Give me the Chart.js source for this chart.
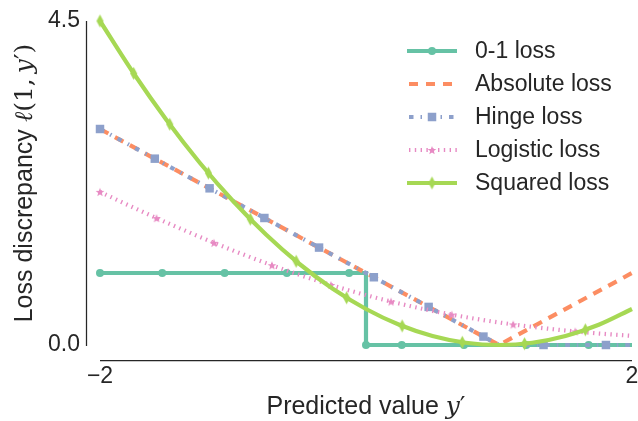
<!DOCTYPE html>
<html>
<head>
<meta charset="utf-8">
<script src="https://cdn.jsdelivr.net/npm/chart.js@4.4.1/dist/chart.umd.min.js"></script>
<style>
  html, body { margin: 0; padding: 0; background: #fff; }
  #wrap { width: 638px; height: 421px; }
</style>
</head>
<body>
<div id="wrap"><canvas id="lossChart" width="638" height="421"></canvas></div>
<script>
// axis ticks
const xTicks = [-2, 2];
const yTicks = [0, 4.5];

// 0-1 loss
const zeroOneX = [-2, 0, 0, 2];
const zeroOneY = [1, 1, 0, 0];
const zeroOneMarkX = [-2, -1.532, -1.063, -0.595, -0.127, 0, 0.269, 0.737, 1.205, 1.674];
const zeroOneMarkY = [1, 1, 1, 1, 1, 0, 0, 0, 0, 0];

// absolute loss
const absX = [-2, 1, 2];
const absY = [3, 0, 1];

// hinge loss
const hingeX = [-2, 1, 2];
const hingeY = [3, 0, 0];
const hingeMarkX = [-2, -1.588, -1.176, -0.764, -0.353, 0.059, 0.471, 0.883, 1.335, 1.804];
const hingeMarkY = [3, 2.588, 2.176, 1.764, 1.353, 0.941, 0.529, 0.117, 0, 0];

// logistic loss
const logX = [-2, -1.75, -1.5, -1.25, -1, -0.75, -0.5, -0.25, 0, 0.25, 0.5, 0.75, 1, 1.25, 1.5, 1.75, 2];
const logY = [2.127, 1.910, 1.701, 1.502, 1.313, 1.137, 0.974, 0.826, 0.693, 0.576, 0.474, 0.387, 0.313, 0.252, 0.201, 0.160, 0.127];
const logMarkX = [-2, -1.575, -1.143, -0.707, -0.264, 0.188, 0.645, 1.107, 1.573];
const logMarkY = [2.127, 1.763, 1.420, 1.108, 0.834, 0.604, 0.422, 0.286, 0.189];

// squared loss
const sqX = [-2, -1.75, -1.5, -1.25, -1, -0.75, -0.5, -0.25, 0, 0.25, 0.5, 0.75, 1, 1.25, 1.5, 1.75, 2];
const sqY = [4.5, 3.781, 3.125, 2.531, 2, 1.531, 1.125, 0.781, 0.5, 0.281, 0.125, 0.031, 0, 0.031, 0.125, 0.281, 0.5];
const sqMarkX = [-2, -1.747, -1.476, -1.185, -0.870, -0.525, -0.146, 0.272, 0.724, 1.192, 1.649];
const sqMarkY = [4.5, 3.772, 3.066, 2.388, 1.748, 1.163, 0.656, 0.265, 0.038, 0.018, 0.211];

const textColor = '#262626';
const sansFont = '"Liberation Sans", Arial, sans-serif';
const mathFont = '"DejaVu Serif", serif';
const lw = 4.2;

const pts = (xs, ys) => xs.map((x, i) => ({ x: x, y: ys[i] }));

function starMarker(color, r) {
  const s = Math.ceil(r * 2 + 2);
  const c = document.createElement('canvas');
  c.width = s; c.height = s;
  const g = c.getContext('2d');
  g.fillStyle = color;
  g.beginPath();
  for (let i = 0; i < 10; i++) {
    const rad = i % 2 === 0 ? r : r * 0.42;
    const a = -Math.PI / 2 + i * Math.PI / 5;
    const px = s / 2 + rad * Math.cos(a), py = s / 2 + rad * Math.sin(a) + 0.5;
    if (i === 0) g.moveTo(px, py); else g.lineTo(px, py);
  }
  g.closePath();
  g.fill();
  return c;
}

function thinDiamond(color, w, h) {
  const c = document.createElement('canvas');
  c.width = w + 2; c.height = h + 2;
  const g = c.getContext('2d');
  g.fillStyle = color;
  g.beginPath();
  g.moveTo(c.width / 2, 1);
  g.lineTo(c.width - 1, c.height / 2);
  g.lineTo(c.width / 2, c.height - 1);
  g.lineTo(1, c.height / 2);
  g.closePath();
  g.fill();
  return c;
}

const starImg = starMarker('#e78ac3', 4.6);
const diamondImg = thinDiamond('#a6d854', 7, 13);

const legendItems = [
  { text: '0-1 loss', color: '#66c2a5', dash: [], marker: 'circle' },
  { text: 'Absolute loss', color: '#fc8d62', dash: [9, 8], marker: null },
  { text: 'Hinge loss', color: '#8da0cb', dash: [4.5, 7, 1.5, 7], marker: 'rect' },
  { text: 'Logistic loss', color: '#e78ac3', dash: [1.4, 4.4], marker: starImg },
  { text: 'Squared loss', color: '#a6d854', dash: [], marker: diamondImg }
];

function drawParts(ctx, parts, x, y) {
  let total = 0;
  parts.forEach(p => { ctx.font = p.font; p.w = ctx.measureText(p.text).width; total += p.w; });
  let cx = x - total / 2;
  ctx.textAlign = 'left';
  parts.forEach(p => { ctx.font = p.font; ctx.fillText(p.text, cx, y); cx += p.w; });
}

function drawMarker(ctx, m, color, x, y) {
  if (!m) return;
  ctx.fillStyle = color;
  if (m === 'circle') {
    ctx.beginPath(); ctx.arc(x, y, 4, 0, Math.PI * 2); ctx.fill();
  } else if (m === 'rect') {
    ctx.fillRect(x - 4.25, y - 4.25, 8.5, 8.5);
  } else {
    ctx.drawImage(m, x - m.width / 2, y - m.height / 2);
  }
}

const decor = {
  id: 'decor',
  afterDraw(chart) {
    const ctx = chart.ctx;
    const a = chart.chartArea;
    ctx.save();
    // offset spines
    ctx.strokeStyle = textColor;
    ctx.lineWidth = 1.25;
    ctx.beginPath();
    ctx.moveTo(a.left - 13.5, a.top);
    ctx.lineTo(a.left - 13.5, a.bottom + 1);
    ctx.moveTo(a.left, a.bottom + 15.5);
    ctx.lineTo(a.right, a.bottom + 15.5);
    ctx.stroke();

    // axis titles
    ctx.fillStyle = textColor;
    ctx.textBaseline = 'alphabetic';
    drawParts(ctx, [
      { text: 'Predicted value ', font: '25px ' + sansFont },
      { text: 'y', font: 'italic 25px ' + mathFont },
      { text: '\u2032', font: '25px ' + mathFont }
    ], (a.left + a.right) / 2, 414);

    ctx.save();
    ctx.translate(32, (a.top + a.bottom) / 2);
    ctx.rotate(-Math.PI / 2);
    drawParts(ctx, [
      { text: 'Loss discrepancy ', font: '25px ' + sansFont },
      { text: '\u2113', font: 'italic 25px ' + mathFont },
      { text: '(1,\u2009', font: '25px ' + mathFont },
      { text: 'y', font: 'italic 25px ' + mathFont },
      { text: '\u2032)', font: '25px ' + mathFont }
    ], 0, 0);
    ctx.restore();

    // legend
    const lx0 = 407, lx1 = 457, tx = 475;
    legendItems.forEach((it, i) => {
      const y = 51 + i * 33;
      ctx.strokeStyle = it.color;
      ctx.lineWidth = lw;
      ctx.lineCap = 'butt';
      ctx.setLineDash(it.dash);
      ctx.lineDashOffset = it.dash.length ? -2 : 0;
      ctx.beginPath();
      ctx.moveTo(lx0, y);
      ctx.lineTo(lx1, y);
      ctx.stroke();
      ctx.setLineDash([]);
      drawMarker(ctx, it.marker, it.color, (lx0 + lx1) / 2, y);
      ctx.fillStyle = textColor;
      ctx.font = '23px ' + sansFont;
      ctx.textAlign = 'left';
      ctx.textBaseline = 'middle';
      ctx.fillText(it.text, tx, y + 1);
    });
    ctx.restore();
  }
};

const lineSet = (label, xs, ys, color, dash, order, smooth) => ({
  label: label,
  data: pts(xs, ys),
  borderColor: color,
  borderWidth: lw,
  borderDash: dash,
  borderCapStyle: 'butt',
  pointRadius: 0,
  tension: 0,
  cubicInterpolationMode: smooth ? 'monotone' : 'default',
  order: order,
  clip: false
});

const markSet = (label, xs, ys, color, style, radius, order) => ({
  label: label,
  data: pts(xs, ys),
  showLine: false,
  pointStyle: style,
  pointRadius: radius,
  pointBackgroundColor: color,
  pointBorderWidth: 0,
  order: order,
  clip: false
});

new Chart(document.getElementById('lossChart'), {
  type: 'line',
  data: {
    datasets: [
      lineSet('0-1 loss', zeroOneX, zeroOneY, '#66c2a5', [], 9, false),
      markSet('0-1 markers', zeroOneMarkX, zeroOneMarkY, '#66c2a5', 'circle', 4, 8),
      lineSet('Absolute loss', absX, absY, '#fc8d62', [9.5, 7.5], 7, false),
      lineSet('Hinge loss', hingeX, hingeY, '#8da0cb', [4.5, 7, 1.5, 7], 6, false),
      markSet('Hinge markers', hingeMarkX, hingeMarkY, '#8da0cb', 'rect', 6, 5),
      lineSet('Logistic loss', logX, logY, '#e78ac3', [1.4, 4.4], 4, true),
      markSet('Logistic markers', logMarkX, logMarkY, '#e78ac3', starImg, 5, 3),
      lineSet('Squared loss', sqX, sqY, '#a6d854', [], 2, true),
      markSet('Squared markers', sqMarkX, sqMarkY, '#a6d854', diamondImg, 7, 1)
    ]
  },
  options: {
    responsive: false,
    animation: false,
    events: [],
    layout: { autoPadding: false, padding: { left: 0, right: 6, top: 21, bottom: 0 } },
    plugins: { legend: { display: false }, tooltip: { enabled: false } },
    scales: {
      x: {
        type: 'linear',
        min: -2,
        max: 2,
        grid: { display: false, drawTicks: false },
        border: { display: false },
        ticks: {
          padding: 18,
          color: textColor,
          font: { family: sansFont, size: 23 },
          callback: v => (v < 0 ? '\u2212' + Math.abs(v) : String(v))
        },
        afterBuildTicks: s => { s.ticks = xTicks.map(v => ({ value: v })); },
        afterFit: s => { s.height = 76; s.paddingLeft = 0; s.paddingRight = 0; }
      },
      y: {
        type: 'linear',
        min: 0,
        max: 4.5,
        grid: { display: false, drawTicks: false },
        border: { display: false },
        ticks: {
          padding: 20,
          color: textColor,
          font: { family: sansFont, size: 23 },
          callback: v => v.toFixed(1)
        },
        afterBuildTicks: s => { s.ticks = yTicks.map(v => ({ value: v })); },
        afterFit: s => { s.width = 100; s.paddingTop = 0; s.paddingBottom = 0; }
      }
    }
  },
  plugins: [decor]
});
</script>
</body>
</html>
